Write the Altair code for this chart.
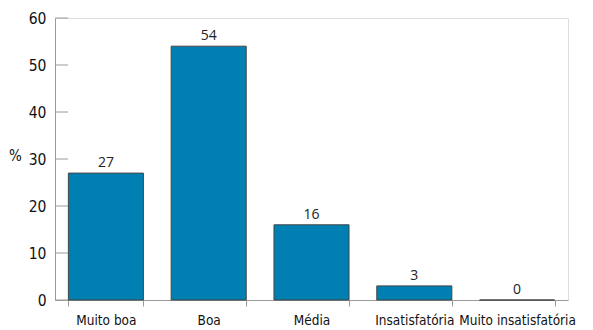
import altair as alt
import pandas as pd

categories = ["Muito boa", "Boa", "Média", "Insatisfatória", "Muito insatisfatória"]
values = [27, 54, 16, 3, 0]
y_ticks = [0, 10, 20, 30, 40, 50, 60]

df = pd.DataFrame({"cat": categories, "val": values})
tick_df = pd.DataFrame({"t": y_ticks})

FONT = "'Liberation Sans Narrow', 'DejaVu Sans Condensed', 'Liberation Sans', sans-serif"
AXIS_COLOR = "#9a9a9a"

x_enc = alt.X("cat:N", sort=categories,
              scale=alt.Scale(paddingInner=0.27, paddingOuter=0.13),
              axis=alt.Axis(title=None, labelAngle=0, tickBand="extent", tickSize=6,
                            tickColor=AXIS_COLOR, domainColor=AXIS_COLOR,
                            labelFont=FONT, labelFontSize=13.5, labelColor="#111",
                            labelPadding=7, labelOverlap=False))
y_scale = alt.Scale(domain=[0, 60], nice=False)

bars = alt.Chart(df).mark_bar(color="#0080b2", stroke="#444", strokeWidth=1).encode(
    x=x_enc,
    y=alt.Y("val:Q", scale=y_scale,
            axis=alt.Axis(title="%", titleAngle=0, titleX=-40, titleY=137,
                          titleAlign="center", titleBaseline="middle",
                          titleFont=FONT, titleFontSize=15, titleFontWeight="normal",
                          titleColor="#111",
                          values=y_ticks, ticks=False, grid=False,
                          domainColor=AXIS_COLOR, labelFont=FONT, labelFontSize=15.5,
                          labelColor="#111", labelPadding=9)),
)

labels = alt.Chart(df).mark_text(baseline="bottom", dy=-3, font="Open Sans",
                                 fontSize=14, color="#222").encode(
    x=alt.X("cat:N", sort=categories),
    y=alt.Y("val:Q", scale=y_scale),
    text=alt.Text("val:Q"),
)

ticks = alt.Chart(tick_df).mark_rule(color=AXIS_COLOR, strokeWidth=1).encode(
    y=alt.Y("t:Q", scale=y_scale),
    x=alt.value(0),
    x2=alt.value(13),
)

chart = alt.layer(bars, labels, ticks).properties(
    width=513, height=282,
    padding={"left": 55, "top": 18, "right": 25, "bottom": 30},
    autosize=alt.AutoSizeParams(type="none"),
).configure_view(stroke=None).configure(background="white")

chart.save("out.html", embed_options={"renderer": "svg", "actions": False})
